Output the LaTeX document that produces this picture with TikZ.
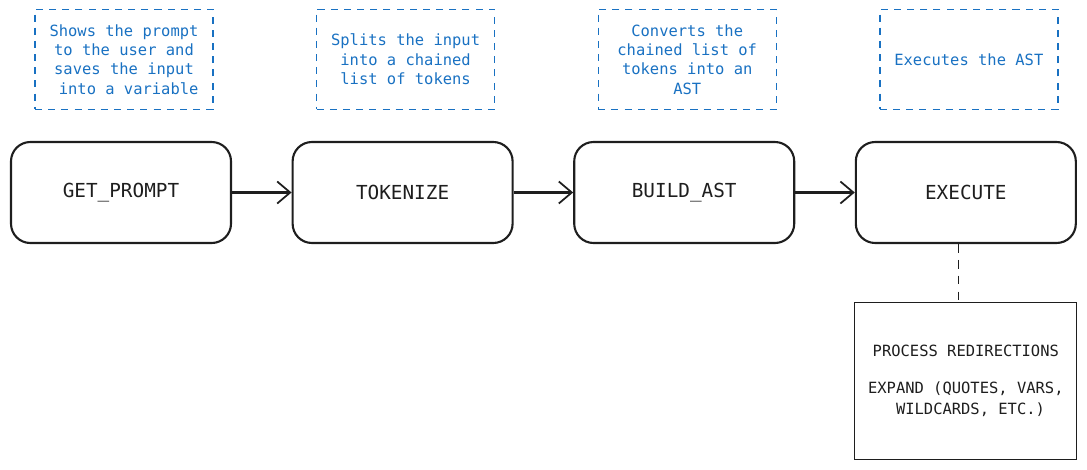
\documentclass[tikz,border=0pt]{standalone}
\usepackage{fontspec}
\setmonofont{DejaVu Sans Mono}
\usepackage{tikz}
\usetikzlibrary{positioning,arrows.meta}
\definecolor{notecol}{HTML}{1971C2}
\definecolor{inkcol}{HTML}{1E1E1E}
\tikzset{
  stage/.style={draw=inkcol, line width=1.2pt, rounded corners=11pt, minimum width=4.40cm, minimum height=2.02cm, font=\ttfamily\fontsize{11}{13}\selectfont, text=inkcol},
  note/.style={draw=notecol, dash pattern=on 4pt off 3.5pt, line width=0.8pt, minimum width=3.56cm, minimum height=2cm, align=center, font=\ttfamily\fontsize{8.8}{11}\selectfont, text=notecol},
  detail/.style={draw=inkcol, line width=0.7pt, minimum width=4.44cm, minimum height=3.14cm, align=center, font=\ttfamily\fontsize{8.8}{12}\selectfont, text=inkcol},
  flow/.style={draw=inkcol, line width=1.5pt, -{Straight Barb[length=2.6mm,width=4.4mm,line width=1pt]}}
}
\begin{document}
\begin{tikzpicture}[node distance=1.19cm]
  \useasboundingbox (0,0) rectangle (21.74,-9.38);

  % etapes principales
  \node (getprompt) [stage] at (2.42,-3.85) {GET\_PROMPT};
  \node (tokenize) [stage, right=of getprompt] {TOKENIZE};
  \node (buildast) [stage, right=of tokenize] {BUILD\_AST};
  \node (execute) [stage, right=of buildast] {EXECUTE};

  % notes au-dessus
  \node (notegp) [note, above=0.62cm of getprompt, xshift=0.06cm] {Shows the prompt\\to the user and\\saves the input\\\ into a variable};
  \node (notetk) [note, above=0.62cm of tokenize, xshift=0.06cm] {Splits the input\\into a chained\\list of tokens};
  \node (noteba) [note, above=0.62cm of buildast, xshift=0.06cm] {Converts the\\chained list of\\tokens into an\\AST};
  \node (noteex) [note, above=0.62cm of execute, xshift=0.06cm] {Executes the AST};

  % detail de EXECUTE
  \node (expand) [detail, below=1.16cm of execute] {PROCESS REDIRECTIONS\\[9pt]EXPAND (QUOTES, VARS,\\\ WILDCARDS, ETC.)};

  \draw [flow] (getprompt) -- (tokenize);
  \draw [flow] (tokenize) -- (buildast);
  \draw [flow] (buildast) -- (execute);
  \draw [inkcol, dash pattern=on 5pt off 4pt, line width=0.7pt] ([xshift=-0.14cm]execute.south) -- ([xshift=-0.14cm]expand.north);
\end{tikzpicture}
\end{document}
